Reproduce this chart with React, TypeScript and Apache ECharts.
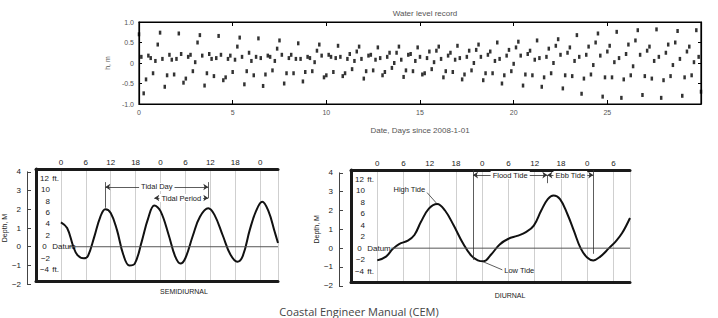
import React, { useEffect, useRef } from "react";
import * as echarts from "echarts";

// ---------- Top panel: water level record (sampled every 3 h) ----------
const levelStepDays = 0.125;
const waterLevel = [
  0.70, 0.15, -0.74, -0.40, 0.18, 0.12, -0.25, 0.05, 0.45,
  0.74, 0.10, -0.58, -0.30, 0.20, 0.08, -0.28, 0.10,
  0.72, 0.22, -0.48, -0.38, 0.15, 0.20, -0.20, 0.02, 0.50,
  0.68, 0.18, -0.55, -0.25, 0.22, 0.10, -0.32, 0.12,
  0.66, 0.20, -0.42, -0.35, 0.10, 0.18, -0.22, 0.08, 0.40,
  0.62, 0.15, -0.52, -0.20, 0.25, 0.05, -0.30, 0.15,
  0.60, 0.12, -0.56, -0.28, 0.18, 0.15, -0.18, 0.05, 0.35,
  0.55, 0.20, -0.50, -0.25, 0.12, 0.20, -0.25, 0.10,
  0.48, 0.10, -0.45, -0.22, 0.15, 0.12, -0.20, 0.02, 0.30,
  0.45, 0.18, -0.35, -0.30, 0.20, 0.15, -0.22, 0.12,
  0.42, 0.15, -0.32, -0.25, 0.10, 0.22, -0.15, 0.05, 0.28,
  0.40, 0.10, -0.38, -0.20, 0.18, 0.20, -0.18, 0.08,
  0.38, 0.12, -0.30, -0.22, 0.15, 0.25, -0.12, 0.00, 0.25,
  0.40, 0.08, -0.34, -0.18, 0.20, 0.22, -0.20, 0.05,
  0.38, 0.15, -0.28, -0.25, 0.12, 0.28, -0.15, 0.02, 0.30,
  0.40, 0.10, -0.35, -0.20, 0.18, 0.25, -0.22, 0.08,
  0.42, 0.12, -0.40, -0.28, 0.15, 0.30, -0.18, 0.00, 0.32,
  0.45, 0.15, -0.42, -0.25, 0.20, 0.28, -0.25, 0.05,
  0.50, 0.10, -0.50, -0.30, 0.18, 0.32, -0.20, -0.02, 0.38,
  0.52, 0.18, -0.55, -0.28, 0.22, 0.30, -0.30, 0.08,
  0.55, 0.12, -0.58, -0.35, 0.15, 0.35, -0.25, 0.00, 0.42,
  0.58, 0.20, -0.62, -0.30, 0.25, 0.38, -0.32, 0.05,
  0.68, 0.15, -0.75, -0.38, 0.20, 0.40, -0.28, -0.05, 0.50,
  0.72, 0.18, -0.82, -0.35, 0.28, 0.42, -0.35, 0.02,
  0.76, 0.12, -0.85, -0.40, 0.22, 0.45, -0.30, -0.08, 0.55,
  0.80, 0.20, -0.78, -0.32, 0.30, 0.40, -0.38, 0.05,
  0.82, 0.15, -0.85, -0.42, 0.25, 0.45, -0.32, -0.05, 0.50,
  0.78, 0.10, -0.80, -0.35, 0.28, 0.40, -0.30, 0.02,
  0.80, 0.15, -0.70,
];

// ---------- Bottom-left: semidiurnal tide ----------
const semiHours = [0, 1.5, 3, 4, 5.5, 6.5, 8, 9.5, 10.7, 12, 13.5, 15, 16.5, 17.8, 19.5, 21, 22.5, 24, 26, 27.5, 28.8, 30, 31.8, 33.5, 35.5, 37, 39, 40.8, 42.5, 43.8, 45.5, 47, 48.5, 50, 51.5, 52.3];
const semiDepth = [1.3, 1.0, 0.0, -0.45, -0.62, -0.5, 0.5, 1.6, 2.0, 1.8, 0.9, -0.4, -1.0, -0.9, 0.3, 1.5, 2.2, 1.9, 0.6, -0.5, -0.9, -0.6, 0.6, 1.6, 2.05, 1.7, 0.6, -0.4, -0.8, -0.5, 0.9, 1.9, 2.4, 1.9, 0.8, 0.2];

// ---------- Bottom-right: diurnal tide ----------
const diurHours = [0, 2, 3.5, 5, 7, 8.5, 10, 11.8, 13.7, 15.5, 17.5, 19.5, 21.5, 23, 24.3, 26, 28, 30, 32, 34, 35.8, 37.5, 39, 40.3, 41.8, 43.5, 45, 46.5, 48, 49.4, 51, 53, 54.5, 56, 57.8];
const diurDepth = [-0.65, -0.45, -0.05, 0.22, 0.4, 0.7, 1.4, 2.1, 2.35, 2.0, 1.2, 0.3, -0.4, -0.65, -0.7, -0.35, 0.2, 0.5, 0.65, 0.85, 1.2, 2.0, 2.6, 2.8, 2.6, 1.8, 0.9, 0.0, -0.5, -0.65, -0.45, 0.0, 0.35, 0.8, 1.6];

const FT_PER_M = 3.2808;
const M_MIN = -6 / FT_PER_M;
const M_MAX = 4.15;

const FONT = "Liberation Sans, Arial, sans-serif";
const INK = "#1a1a1a";

const hourLabel = (v: number) => {
  if (v < 0 || Math.abs(v % 6) > 1e-6) return "";
  return String(((v % 24) + 24) % 24);
};
const minus = (v: number) => (v < 0 ? "\u2212" + Math.abs(v) : String(v));
const ftLabel = (v: number) => {
  if (v < -5 || v > 12.5) return "";
  const suffix = v === 12 || v === -4 ? " ft." : v === 0 ? " Datum" : "";
  return `{n|${minus(v)}}${suffix}`;
};

function tideAxes(gridData: number, gridMeter: number, hMax: number, name: string) {
  const x = [
    {
      gridIndex: gridData, type: "value", position: "top", min: -6, max: hMax, interval: 6,
      axisLine: { show: true, onZero: false, lineStyle: { color: INK, width: 3 } },
      axisTick: { show: false },
      axisLabel: { formatter: hourLabel, fontSize: 8, color: INK, fontFamily: FONT, margin: 3 },
      splitLine: { show: true, lineStyle: { color: "#cfcfcf", width: 1 } },
    },
    {
      gridIndex: gridData, type: "value", position: "bottom", min: -6, max: hMax,
      axisLine: { show: true, onZero: false, lineStyle: { color: INK, width: 3 } },
      axisTick: { show: false }, axisLabel: { show: false }, splitLine: { show: false },
    },
    { gridIndex: gridMeter, type: "value", show: false, min: 0, max: 1 },
  ];
  const y = [
    { gridIndex: gridData, type: "value", show: false, min: M_MIN, max: M_MAX },
    {
      gridIndex: gridData, type: "value", position: "left", min: -6, max: M_MAX * FT_PER_M, interval: 2,
      axisLine: { show: true, onZero: false, lineStyle: { color: INK, width: 3 } },
      axisTick: { show: false }, splitLine: { show: false },
      axisLabel: {
        inside: true, margin: 3, formatter: ftLabel, fontSize: 8, color: INK, fontFamily: FONT,
        rich: { n: { width: 11, align: "right", fontSize: 8, fontFamily: FONT, color: INK } },
      },
    },
    {
      gridIndex: gridMeter, type: "value", position: "left", min: -2, max: 4, interval: 1,
      axisLine: { show: true, onZero: false, lineStyle: { color: "#444", width: 1 } },
      axisTick: { show: true, inside: true, length: 4, lineStyle: { color: "#444" } },
      splitLine: { show: false },
      axisLabel: { formatter: minus, fontSize: 8, color: INK, fontFamily: FONT, margin: 6 },
      name, nameLocation: "middle", nameRotate: 90, nameGap: 16,
      nameTextStyle: { fontSize: 7, color: INK, fontFamily: FONT },
    },
  ];
  return { x, y };
}

const arrow = (a: number[], b: number[], text?: string, both = true) => [
  { coord: a, symbol: both ? "arrow" : "none", label: text ? { show: true, formatter: text } : { show: false } },
  { coord: b, symbol: both ? "arrow" : "none" },
];

export default function App() {
  const ref = useRef<HTMLDivElement>(null);
  useEffect(() => {
    if (!ref.current) return;
    const chart = echarts.init(ref.current, undefined, { renderer: "svg" });
    const left = tideAxes(1, 2, 52.3, "Depth, M");
    const right = tideAxes(3, 4, 57.8, "Depth, M");

    const markLineBase = {
      silent: true,
      symbol: ["none", "none"],
      symbolSize: 5,
      lineStyle: { type: "solid", color: "#333", width: 0.8 },
      label: {
        show: false, position: "middle", distance: 0, verticalAlign: "middle",
        fontSize: 7.5, color: INK, fontFamily: FONT,
        backgroundColor: "#fff", padding: [0, 2],
      },
      emphasis: { disabled: true },
    };

    chart.setOption({
      animation: false,
      backgroundColor: "#fff",
      title: {
        text: "Water level record",
        left: 420, top: 4, textAlign: "center",
        textStyle: { fontSize: 8, fontWeight: "normal", color: "#555", fontFamily: FONT },
      },
      grid: [
        { left: 139, top: 22, width: 562, height: 82, show: true, borderColor: "#000", borderWidth: 1.2, backgroundColor: "transparent" },
        { left: 36, top: 169, width: 242, height: 112 },
        { left: 25, top: 171.8, width: 5, height: 112.4 },
        { left: 351, top: 170, width: 279, height: 112.6 },
        { left: 339, top: 172.8, width: 5, height: 113 },
      ],
      xAxis: [
        {
          gridIndex: 0, type: "value", min: 0, max: 30, interval: 5, position: "bottom",
          axisLine: { show: true, onZero: false, lineStyle: { color: "#000", width: 1.2 } },
          axisTick: { show: true, inside: true, length: 4, lineStyle: { color: "#000" } },
          axisLabel: { formatter: (v: number) => (v >= 30 ? "" : String(v)), fontSize: 7, color: "#555", fontFamily: FONT, margin: 5 },
          splitLine: { show: false },
          name: "Date, Days since 2008-1-01", nameLocation: "middle", nameGap: 22,
          nameTextStyle: { fontSize: 8, color: "#555", fontFamily: FONT },
        },
        {
          gridIndex: 0, type: "value", min: 0, max: 30, interval: 5, position: "top",
          axisLine: { show: true, onZero: false, lineStyle: { color: "#000", width: 1.2 } },
          axisTick: { show: true, inside: true, length: 4, lineStyle: { color: "#000" } },
          axisLabel: { show: false }, splitLine: { show: false },
        },
        ...left.x,
        ...right.x,
      ],
      yAxis: [
        {
          gridIndex: 0, type: "value", min: -1, max: 1, interval: 0.5, position: "left",
          axisLine: { show: true, onZero: false, lineStyle: { color: "#000", width: 1.2 } },
          axisTick: { show: true, inside: true, length: 3, lineStyle: { color: "#000" } },
          axisLabel: { formatter: (v: number) => (v === 0 ? "0" : v.toFixed(1)), fontSize: 7, color: "#555", fontFamily: FONT, margin: 5 },
          splitLine: { show: false },
          name: "h, m", nameLocation: "middle", nameRotate: 90, nameGap: 24,
          nameTextStyle: { fontSize: 7, color: "#555", fontFamily: FONT },
        },
        {
          gridIndex: 0, type: "value", min: -1, max: 1, interval: 0.5, position: "right",
          axisLine: { show: true, onZero: false, lineStyle: { color: "#000", width: 1.2 } },
          axisTick: { show: true, inside: true, length: 3, lineStyle: { color: "#000" } },
          axisLabel: { show: false }, splitLine: { show: false },
        },
        ...left.y,
        ...right.y,
      ],
      series: [
        {
          type: "scatter", xAxisIndex: 0, yAxisIndex: 0, symbol: "rect", symbolSize: [2.5, 4],
          itemStyle: { color: "#000" }, silent: true,
          data: waterLevel.map((v, i) => [i * levelStepDays, v]),
        },
        {
          type: "line", xAxisIndex: 2, yAxisIndex: 2, smooth: 0.4, showSymbol: false, silent: true,
          lineStyle: { color: "#111", width: 2 },
          data: semiHours.map((h, i) => [h, semiDepth[i]]),
          markLine: {
            ...markLineBase,
            data: [
              arrow([10.7, 3.19], [35.5, 3.19], "Tidal Day"),
              arrow([10.7, 3.45], [10.7, 2.08], undefined, false),
              arrow([35.5, 3.45], [35.5, 2.6], undefined, false),
              arrow([22.5, 2.6], [35.5, 2.6], "Tidal Period"),
            ],
          },
        },
        {
          type: "line", xAxisIndex: 2, yAxisIndex: 2, showSymbol: false, silent: true,
          lineStyle: { color: "#555", width: 1 },
          data: [[1.8, 0], [52.3, 0]],
        },
        {
          type: "line", xAxisIndex: 5, yAxisIndex: 5, smooth: 0.4, showSymbol: false, silent: true,
          lineStyle: { color: "#111", width: 2 },
          data: diurHours.map((h, i) => [h, diurDepth[i]]),
          markLine: {
            ...markLineBase,
            data: [
              arrow([21.9, 3.88], [38.9, 3.88], "Flood Tide"),
              arrow([38.9, 3.88], [49.4, 3.88], "Ebb Tide"),
              arrow([21.9, 4.15], [21.9, -0.62], undefined, false),
              arrow([49.4, 4.15], [49.4, -0.3], undefined, false),
              arrow([38.9, 3.88], [38.9, 3.45], undefined, false),
              arrow([11.4, 2.95], [13.5, 2.4], undefined, false),
              arrow([24.2, -0.72], [28.6, -1.15], undefined, false),
            ],
          },
          markPoint: {
            silent: true,
            symbol: "circle",
            symbolSize: 1,
            itemStyle: { color: "rgba(0,0,0,0)" },
            label: { show: true, fontSize: 7.5, color: INK, fontFamily: FONT, distance: 1 },
            data: [
              { coord: [11.3, 3.1], label: { position: "left", formatter: "High Tide" } },
              { coord: [28.7, -1.17], label: { position: "right", formatter: "Low Tide" } },
            ],
          },
        },
        {
          type: "line", xAxisIndex: 5, yAxisIndex: 5, showSymbol: false, silent: true,
          lineStyle: { color: "#555", width: 1 },
          data: [[3.2, 0], [57.8, 0]],
        },
      ],
      graphic: [
        {
          type: "text", x: 184, y: 291, silent: true,
          style: { text: "SEMIDIURNAL", fontSize: 7, fill: INK, fontFamily: FONT, align: "center", verticalAlign: "middle" },
        },
        {
          type: "text", x: 510, y: 295, silent: true,
          style: { text: "DIURNAL", fontSize: 7, fill: INK, fontFamily: FONT, align: "center", verticalAlign: "middle" },
        },
        {
          type: "text", x: 359, y: 311, silent: true,
          style: { text: "Coastal Engineer Manual (CEM)", fontSize: 11, fill: "#444", fontFamily: "Open Sans, sans-serif", align: "center", verticalAlign: "middle" },
        },
      ],
    });
    return () => chart.dispose();
  }, []);
  return <div ref={ref} style={{ position: "absolute", left: 0, top: 0, width: 718, height: 318 }} />;
}
